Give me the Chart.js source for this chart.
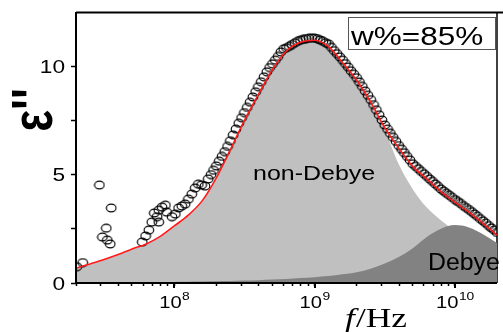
<!DOCTYPE html>
<html>
<head>
<meta charset="utf-8">
<script src="https://cdn.jsdelivr.net/npm/chart.js@4.4.1/dist/chart.umd.min.js"></script>
<style>
html, body { margin: 0; padding: 0; background: #fff; }
#wrap { width: 503px; height: 332px; }
</style>
</head>
<body>
<div id="wrap"><canvas id="chart" width="503" height="332"></canvas></div>
<script>
// fit curves, sampled every 0.1 decade (log10 of f/Hz)
const fitLogF = [7.3, 7.4, 7.5, 7.6, 7.7, 7.8, 7.9, 8.0, 8.1, 8.2, 8.3, 8.4, 8.5, 8.6, 8.7, 8.8, 8.9, 9.0,
                 9.1, 9.2, 9.3, 9.4, 9.5, 9.6, 9.7, 9.8, 9.9, 10.0, 10.1, 10.2, 10.3];
const totalFit = [0.68, 0.88, 1.08, 1.31, 1.57, 1.80, 2.15, 2.63, 3.13, 3.80, 4.85, 6.15, 7.50, 8.70, 9.85, 10.70, 11.10, 11.20,
                  10.90, 10.16, 9.35, 8.34, 7.17, 6.22, 5.38, 4.80, 4.22, 3.73, 3.27, 2.75, 2.21];
const nonDebye = [0.67, 0.87, 1.07, 1.29, 1.55, 1.78, 2.13, 2.61, 3.10, 3.77, 4.81, 6.11, 7.46, 8.66, 9.81, 10.66, 11.06, 11.16,
                  10.86, 10.12, 9.31, 8.28, 7.05, 5.48, 4.33, 3.48, 2.90, 2.40, 1.95, 1.60, 1.30];
const debye = [0.01, 0.01, 0.02, 0.02, 0.03, 0.03, 0.04, 0.05, 0.06, 0.07, 0.08, 0.09, 0.11, 0.13, 0.16, 0.19, 0.23, 0.27,
               0.32, 0.40, 0.50, 0.66, 0.90, 1.20, 1.60, 2.12, 2.50, 2.67, 2.56, 2.25, 1.85];

// measured points (open circles)
const dataLogF = [7.306, 7.348, 7.467, 7.488, 7.516, 7.523, 7.544, 7.551,
    7.772, 7.796, 7.819, 7.840, 7.858, 7.878, 7.890, 7.890, 7.913, 7.937, 7.946, 7.984, 8.008, 8.031, 8.054, 8.078,
    8.101, 8.125, 8.149, 8.172, 8.195, 8.219, 8.242, 8.262,
    8.28, 8.30, 8.32, 8.34, 8.36, 8.38, 8.40, 8.42, 8.44, 8.46, 8.48, 8.50, 8.52, 8.54, 8.56, 8.58, 8.60, 8.62, 8.64,
    8.66, 8.68, 8.70, 8.72, 8.74, 8.76, 8.78, 8.80, 8.82, 8.84, 8.86, 8.88, 8.90, 8.92, 8.94, 8.96, 8.98, 9.00,
    9.02, 9.04, 9.06, 9.08, 9.10, 9.12, 9.14, 9.16, 9.18, 9.20, 9.22, 9.24, 9.26, 9.28, 9.30, 9.32, 9.34, 9.36,
    9.38, 9.40, 9.42, 9.44, 9.46, 9.48, 9.50, 9.52, 9.54, 9.56, 9.58, 9.60, 9.62, 9.64, 9.66, 9.68, 9.70, 9.72,
    9.74, 9.76, 9.78, 9.80, 9.82, 9.84, 9.86, 9.88, 9.90, 9.92, 9.94, 9.96, 9.98, 10.00, 10.02, 10.04, 10.06,
    10.08, 10.10, 10.12, 10.14, 10.16, 10.18, 10.20, 10.22, 10.24, 10.26, 10.28, 10.30];
const dataEps = [0.75, 0.94, 4.52, 2.12, 2.53, 1.98, 1.80, 3.46,
    1.89, 2.17, 2.44, 2.81, 3.23, 3.06, 2.81, 3.36, 3.50, 3.59, 3.27, 3.06, 3.18, 3.46, 3.55, 3.64,
    3.87, 4.10, 4.38, 4.56, 4.52, 4.47, 4.80, 5.00,
    5.20, 5.40, 5.62, 5.84, 6.06, 6.30, 6.56, 6.83, 7.10, 7.37, 7.62, 7.86, 8.10, 8.34, 8.58, 8.82, 9.05, 9.28, 9.51,
    9.74, 9.94, 10.11, 10.28, 10.45, 10.66, 10.80, 10.85, 10.92, 11.00, 11.08, 11.15, 11.20, 11.24, 11.27, 11.29, 11.30, 11.30,
    11.27, 11.21, 11.15, 11.08, 11.02, 10.87, 10.72, 10.58, 10.43, 10.28, 10.12, 9.96, 9.79, 9.63, 9.47, 9.27, 9.07, 8.86,
    8.66, 8.46, 8.23, 7.99, 7.76, 7.52, 7.29, 7.10, 6.91, 6.72, 6.53, 6.34, 6.17, 6.01, 5.84, 5.67, 5.50, 5.38,
    5.27, 5.15, 5.04, 4.92, 4.80, 4.69, 4.57, 4.46, 4.34, 4.24, 4.14, 4.05, 3.95, 3.85, 3.76, 3.67, 3.57,
    3.48, 3.39, 3.29, 3.18, 3.08, 2.97, 2.87, 2.76, 2.65, 2.54, 2.44, 2.33];

// axes
const xMinLogF = 7.3, xMaxLogF = 10.3;
const xTickMajor = [1e8, 1e9, 1e10];
const xTickExp = ['8', '9', '10'];
const xMinorMult = [2, 3, 4, 5, 6, 7, 8, 9];
const yTickVals = [0, 2.5, 5, 7.5, 10];
const yTickLabels = ['0', '', '5', '', '10'];

const SX = 1.26; // the source figure is stretched horizontally

function xy(logs, vals) {
    return logs.map((l, i) => ({ x: Math.pow(10, l), y: vals[i] }));
}

// all log ticks (2..9 x decade plus decades) inside the range
const xTickAll = [];
for (let d = 7; d <= 10; d++) {
    [1].concat(xMinorMult).forEach(m => {
        const v = m * Math.pow(10, d);
        const l = Math.log10(v);
        if (l >= xMinLogF && l <= xMaxLogF) xTickAll.push(v);
    });
}

// open ellipse marker
function makeRing() {
    const c = document.createElement('canvas');
    c.width = 12; c.height = 10;
    const g = c.getContext('2d');
    g.strokeStyle = '#000';
    g.lineWidth = 1.15;
    g.beginPath();
    g.ellipse(6, 5, 4.8, 3.9, 0, 0, Math.PI * 2);
    g.stroke();
    return c;
}

function stretchText(ctx, txt, x, y, font, align, sx) {
    ctx.save();
    ctx.translate(x, y);
    ctx.scale(sx || SX, 1);
    ctx.font = font;
    ctx.textAlign = align || 'left';
    ctx.textBaseline = 'alphabetic';
    ctx.fillStyle = '#000';
    ctx.fillText(txt, 0, 0);
    ctx.restore();
}

const framePlugin = {
    id: 'frame',
    beforeDatasetsDraw(chart) {
        const ctx = chart.ctx, a = chart.chartArea;
        ctx.save();
        ctx.strokeStyle = '#000';
        ctx.lineWidth = 1.5;
        ctx.beginPath();
        ctx.moveTo(a.right, a.top);
        ctx.lineTo(a.right, a.bottom);
        ctx.stroke();
        ctx.restore();
    },
    afterDatasetsDraw(chart) {
        const ctx = chart.ctx, a = chart.chartArea;
        const xs = chart.scales.x, ys = chart.scales.y;
        ctx.save();
        ctx.strokeStyle = '#000';
        ctx.lineWidth = 2;
        ctx.beginPath();
        ctx.moveTo(a.left, a.top + 0.5);
        ctx.lineTo(503, a.top + 0.5);
        ctx.moveTo(a.left, a.top);
        ctx.lineTo(a.left, a.bottom + 1);
        ctx.moveTo(a.left - 1, a.bottom);
        ctx.lineTo(a.right, a.bottom);
        ctx.stroke();
        // longer major ticks on x
        xTickMajor.forEach(v => {
            const px = Math.round(xs.getPixelForValue(v));
            ctx.beginPath();
            ctx.moveTo(px, a.bottom);
            ctx.lineTo(px, a.bottom + 5);
            ctx.stroke();
        });
        ctx.restore();

        // y tick labels
        yTickVals.forEach((v, i) => {
            if (!yTickLabels[i]) return;
            stretchText(ctx, yTickLabels[i], 65, ys.getPixelForValue(v) + 6.5, '18px "Liberation Sans"', 'right');
        });
        // x tick labels 10^n
        xTickMajor.forEach((v, i) => {
            const px = xs.getPixelForValue(v);
            ctx.font = '16px "Liberation Sans"';
            const w1 = ctx.measureText('10').width * SX;
            ctx.font = '11px "Liberation Sans"';
            const w2 = ctx.measureText(xTickExp[i]).width * SX;
            const left = px - (w1 + w2) / 2;
            stretchText(ctx, '10', left, 308, '16px "Liberation Sans"');
            stretchText(ctx, xTickExp[i], left + w1 + 0.5, 300, '11px "Liberation Sans"');
        });
        // x title: f/Hz
        ctx.save();
        ctx.translate(345, 327);
        ctx.scale(SX, 1);
        ctx.fillStyle = '#000';
        ctx.textBaseline = 'alphabetic';
        ctx.font = 'italic 28px "Liberation Serif"';
        ctx.fillText('f', 0, 0);
        const fw = ctx.measureText('f').width;
        ctx.font = '28px "Liberation Serif"';
        ctx.fillText('/Hz', fw + 1, 0);
        ctx.restore();
        // y title: epsilon''
        ctx.save();
        ctx.translate(52, 110);
        ctx.rotate(-Math.PI / 2);
        ctx.scale(1, SX);
        ctx.fillStyle = '#000';
        ctx.font = 'bold 46px "Liberation Sans"';
        ctx.textAlign = 'center';
        ctx.textBaseline = 'alphabetic';
        ctx.fillText("\u03b5''", 0, 0);
        ctx.restore();
        // peak names
        stretchText(ctx, 'non-Debye', 253, 180, '21px "Liberation Sans"', 'left', 1.19);
        stretchText(ctx, 'Debye', 428, 270, '23px "Liberation Sans"', 'left', 1.08);
        // sample box
        ctx.save();
        ctx.fillStyle = '#fff';
        ctx.fillRect(348.5, 17.5, 147, 32);
        ctx.strokeStyle = '#555';
        ctx.lineWidth = 1;
        ctx.strokeRect(348.5, 17.5, 147, 32);
        ctx.restore();
        stretchText(ctx, 'w%=85%', 351, 44.5, '25px "Liberation Sans"');
    }
};

const ring = makeRing();

new Chart(document.getElementById('chart'), {
    type: 'line',
    data: {
        datasets: [
            {
                label: 'fit',
                data: xy(fitLogF, totalFit),
                borderColor: '#ff1a1a',
                borderWidth: 1.6,
                pointRadius: 0,
                fill: false,
                cubicInterpolationMode: 'monotone',
                order: 0
            },
            {
                label: 'data',
                data: xy(dataLogF, dataEps),
                showLine: false,
                pointStyle: ring,
                pointRadius: 5,
                order: 1
            },
            {
                label: 'Debye',
                data: xy(fitLogF, debye),
                borderWidth: 0,
                pointRadius: 0,
                backgroundColor: '#828282',
                fill: 'origin',
                cubicInterpolationMode: 'monotone',
                order: 2
            },
            {
                label: 'non-Debye',
                data: xy(fitLogF, nonDebye),
                borderWidth: 0,
                pointRadius: 0,
                backgroundColor: '#c0c0c0',
                fill: 'origin',
                cubicInterpolationMode: 'monotone',
                order: 3
            }
        ]
    },
    options: {
        responsive: false,
        animation: false,
        devicePixelRatio: 1,
        layout: { padding: { top: 12, right: 1, left: 0, bottom: 0 } },
        plugins: { legend: { display: false }, tooltip: { enabled: false } },
        scales: {
            x: {
                type: 'logarithmic',
                min: Math.pow(10, xMinLogF),
                max: Math.pow(10, xMaxLogF),
                afterBuildTicks: s => { s.ticks = xTickAll.map(v => ({ value: v })); },
                afterFit: s => { s.height = 49; },
                ticks: { display: false },
                border: { display: false },
                grid: { display: true, drawOnChartArea: false, drawTicks: true, tickLength: 3, tickWidth: 1.5, tickColor: '#000' }
            },
            y: {
                type: 'linear',
                min: 0,
                max: 12.5,
                afterBuildTicks: s => { s.ticks = yTickVals.map(v => ({ value: v })); },
                afterFit: s => { s.width = 76; },
                ticks: { display: false },
                border: { display: false },
                grid: { display: true, drawOnChartArea: false, drawTicks: true, tickLength: 5, tickWidth: 1.5, tickColor: '#000' }
            }
        }
    },
    plugins: [framePlugin]
});
</script>
</body>
</html>
